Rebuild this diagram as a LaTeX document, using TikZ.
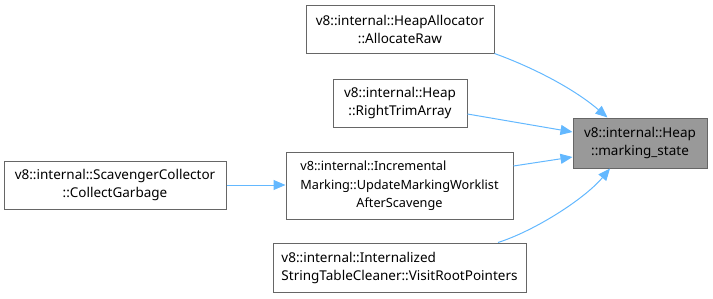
\documentclass[tikz,border=0pt]{standalone}
\usepackage{fontspec}
\setmainfont{Noto Sans}
\usetikzlibrary{arrows.meta,calc}
\definecolor{edgeblue}{HTML}{63B8FF}
\definecolor{boxline}{HTML}{666666}
\definecolor{curfill}{HTML}{999999}
\begin{document}
\begin{tikzpicture}[x=1pt,y=-1pt,
  fn/.style={draw=boxline,line width=1pt,fill=white,inner sep=0pt,
    font=\fontsize{13.5}{18}\selectfont,align=center},
  cur/.style={fn,fill=curfill},
  call/.style={draw=edgeblue,line width=1pt,
    -{Triangle[length=12pt,width=10pt]}}]
\useasboundingbox (0,0) rectangle (713,298);

\node[cur,minimum width=134pt,minimum height=50pt] (tgt) at (640,143)
  {v8::internal::Heap\\::marking\_state};
\node[fn,minimum width=188pt,minimum height=48pt] (ha) at (400,29)
  {v8::internal::HeapAllocator\\::AllocateRaw};
\node[fn,minimum width=134pt,minimum height=48pt] (rt) at (400,103)
  {v8::internal::Heap\\::RightTrimArray};
\node[fn,minimum width=227pt,minimum height=67pt,
  font=\fontsize{12.7}{18.5}\selectfont] (inc) at (399.5,185.5)
  {\begin{tabular}{@{}l@{}}v8::internal::Incremental\\
   Marking::UpdateMarkingWorklist\\
   \multicolumn{1}{@{}c@{}}{AfterScavenge}\end{tabular}};
\node[fn,minimum width=222pt,minimum height=48pt] (sc) at (115,185)
  {v8::internal::ScavengerCollector\\::CollectGarbage};
\node[fn,minimum width=253pt,minimum height=49pt,align=left] (itc) at (399.5,267.5)
  {v8::internal::Internalized\\StringTableCleaner::VisitRootPointers};

% callers of marking_state
\draw[call] (ha.south east) .. controls ($(ha.south east)+(36,13)$)
  and ($(tgt.north west)+(0,-30)$) .. ($(tgt.north west)+(35,0)$);
\draw[call] ($(rt.east)+(0,11)$) -- ($(tgt.west)+(0,-11)$);
\draw[call] ($(inc.east)+(0,-19.5)$) -- ($(tgt.west)+(0,14)$);
\draw[call] ($(itc.north)+(98.5,0)$) .. controls ($(itc.north)+(136,-12)$)
  and ($(tgt.south)+(-55,30)$) .. ($(tgt.south)+(-30,0)$);
\draw[call] (sc.east) -- (sc.east -| inc.west);
\end{tikzpicture}
\end{document}
